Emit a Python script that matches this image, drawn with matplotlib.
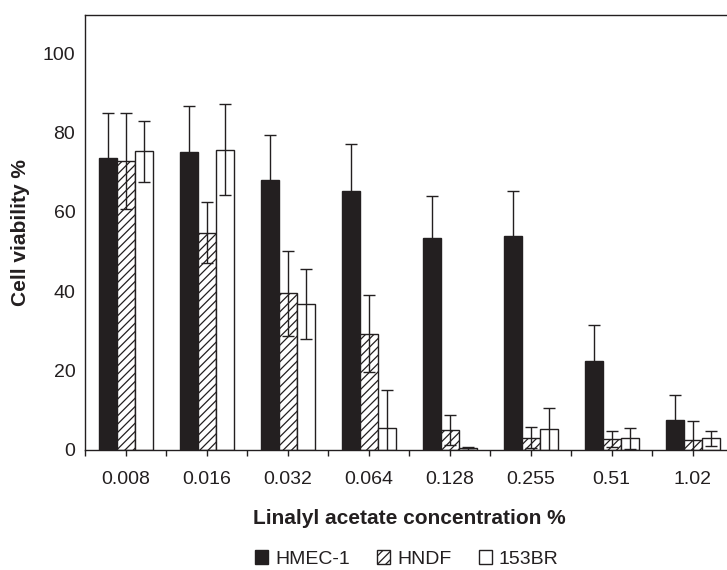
import numpy as np
import matplotlib
matplotlib.use("Agg")
import matplotlib.pyplot as plt

# values (cell viability %, mean and error)
concentrations = ["0.008", "0.016", "0.032", "0.064", "0.128", "0.255", "0.51", "1.02"]
hmec = [73.5, 75.1, 68.0, 65.3, 53.5, 53.9, 22.5, 7.6]
hmec_err = [11.5, 11.6, 11.3, 11.8, 10.5, 11.4, 8.9, 6.3]
hndf = [72.7, 54.8, 39.5, 29.3, 5.0, 3.1, 2.8, 2.5]
hndf_err = [12.1, 7.7, 10.7, 9.7, 3.8, 2.6, 2.1, 4.9]
br153 = [75.3, 75.7, 36.7, 5.6, 0.4, 5.2, 2.9, 2.9]
br153_err = [7.7, 11.5, 8.8, 9.5, 0.3, 5.5, 2.7, 2.0]
series_names = ["HMEC-1", "HNDF", "153BR"]

dark = "#231f20"
plt.rcParams["font.family"] = ["Liberation Sans", "DejaVu Sans"]
plt.rcParams["hatch.color"] = dark
plt.rcParams["hatch.linewidth"] = 0.9

fig = plt.figure(figsize=(7.27, 5.7), dpi=100)
# axes runs past the right edge of the figure like the original crop
ax = fig.add_axes([85 / 727, 120 / 570, 648 / 727, 435 / 570])

x = np.arange(len(concentrations))
w = 18 / 81

styles = [
    (hmec, hmec_err, dark, None),
    (hndf, hndf_err, "white", "////"),
    (br153, br153_err, "white", None),
]

handles = []
for i, (vals, errs, fc, hatch) in enumerate(styles):
    pos = x + (i - 1) * w
    b = ax.bar(pos, vals, w, color=fc, edgecolor=dark, linewidth=1.0,
               hatch=hatch, zorder=2, label=series_names[i])
    ax.errorbar(pos, vals, yerr=errs, fmt="none", ecolor=dark,
                elinewidth=1.0, capsize=4.3, capthick=1.0, zorder=3)
    handles.append(b)

ax.set_xlim(-0.5, len(concentrations) - 0.5)
ax.set_ylim(0, 109.6)

ax.set_yticks([0, 20, 40, 60, 80, 100])
ax.tick_params(axis="y", length=0, pad=7, labelsize=14, labelcolor=dark)

ax.set_xticks(x)
ax.set_xticklabels(concentrations)
ax.set_xticks(np.arange(len(concentrations) + 1) - 0.5, minor=True)
ax.tick_params(axis="x", which="both", direction="out", length=4.5,
               width=1.0, color=dark, pad=10.5, labelsize=14, labelcolor=dark)

for s in ax.spines.values():
    s.set_color(dark)
    s.set_linewidth(1.0)

ax.set_xlabel("Linalyl acetate concentration %", fontsize=15,
              fontweight="bold", color=dark, labelpad=15)
ax.set_ylabel("Cell viability %", fontsize=15, fontweight="bold",
              color=dark, labelpad=9)

fig.legend(handles=handles, loc="center", bbox_to_anchor=(407 / 727, 0.019),
           ncol=3, frameon=False, fontsize=14, handlelength=0.67,
           handleheight=0.67, handletextpad=0.36, columnspacing=1.4,
           labelcolor=dark)

fig.savefig("out.png", dpi=100)
